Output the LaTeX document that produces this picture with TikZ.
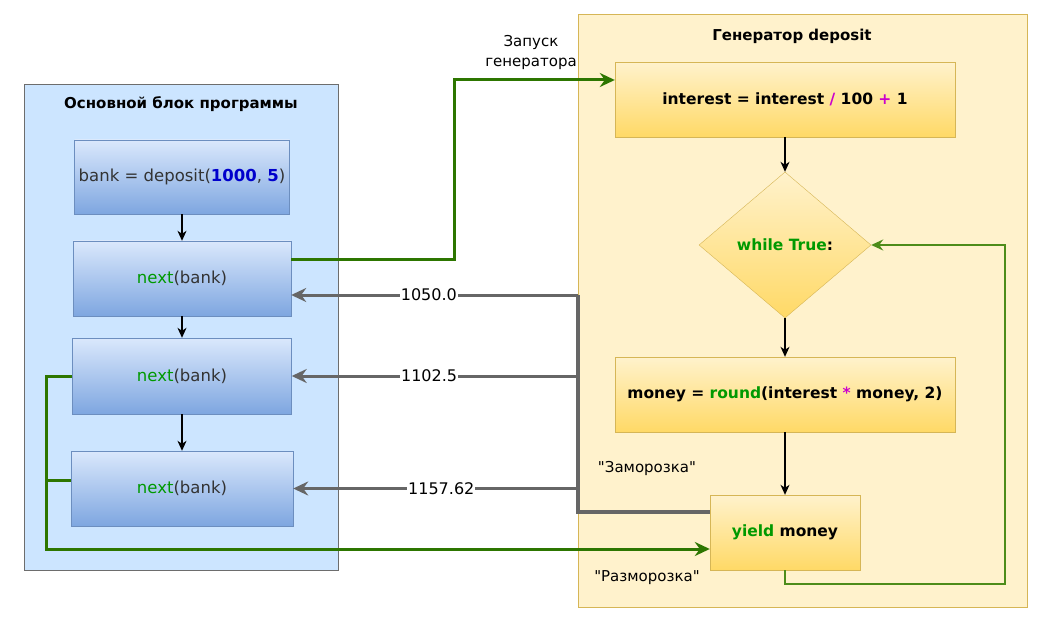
\documentclass[tikz,border=0pt]{standalone}
\usepackage{fontspec}
\setmainfont{DejaVu Sans}[Ligatures=TeXOff]
\usetikzlibrary{positioning,arrows.meta,shapes.geometric,calc}
\usepackage{xcolor}
\definecolor{panelBlue}{HTML}{CCE5FF}
\definecolor{panelGray}{HTML}{6D6D6D}
\definecolor{codeBlueTop}{HTML}{DAE8FC}
\definecolor{codeBlueBot}{HTML}{7EA6E0}
\definecolor{codeBlueLine}{HTML}{6C8EBF}
\definecolor{panelYellow}{HTML}{FFF2CC}
\definecolor{yellowLine}{HTML}{D6B656}
\definecolor{codeYellowBot}{HTML}{FFD966}
\definecolor{flowGreen}{HTML}{2D7600}
\definecolor{loopGreen}{HTML}{4D8C1A}
\definecolor{kwGreen}{HTML}{009900}
\definecolor{numBlue}{HTML}{0000CC}
\definecolor{opMagenta}{HTML}{CC00CC}
\definecolor{retGray}{HTML}{666666}
\definecolor{darkText}{HTML}{333333}

\newcommand{\kw}[1]{\textcolor{kwGreen}{#1}}
\newcommand{\op}[1]{\textcolor{opMagenta}{#1}}

\begin{document}
\begin{tikzpicture}[x=1pt, y=-1pt,
    mainPanel/.style={rectangle, draw=panelGray, fill=panelBlue, line width=1.4pt, inner sep=0pt},
    genPanel/.style={rectangle, draw=yellowLine, fill=panelYellow, line width=0.8pt, inner sep=0pt},
    panelTitle/.style={font=\fontsize{15}{17}\selectfont\bfseries, text=black},
    blueBox/.style={rectangle, draw=codeBlueLine, top color=codeBlueTop, bottom color=codeBlueBot, minimum width=218pt, minimum height=75pt, font=\fontsize{16.5}{19}\selectfont, text=darkText, inner sep=2pt},
    yellowBox/.style={rectangle, draw=yellowLine, top color=panelYellow, bottom color=codeYellowBot, minimum height=75pt, font=\fontsize{15.5}{18}\selectfont\bfseries, inner sep=2pt},
    stepArrow/.style={-{Stealth[length=10pt,width=9pt,inset=3pt]}, line width=1.1pt, draw=black},
    startArrow/.style={-{Stealth[length=15pt,width=14pt,inset=5pt]}, line width=3pt, draw=flowGreen},
    wakeLine/.style={line width=3pt, draw=flowGreen},
    loopArrow/.style={-{Stealth[length=12pt,width=11pt,inset=4pt]}, line width=1.6pt, draw=loopGreen},
    retArrow/.style={-{Stealth[length=15pt,width=14pt,inset=5pt]}, line width=3pt, draw=retGray},
    retLine/.style={line width=3.2pt, draw=retGray},
    valLabel/.style={fill=white, inner sep=1pt, font=\fontsize{16}{18}\selectfont},
    noteText/.style={font=\fontsize{15}{20}\selectfont, align=center}
]
    \useasboundingbox (0,0) rectangle (1062,636);

    \node[mainPanel, anchor=north west, minimum width=314pt, minimum height=486pt] (mainBlock) at (24,84) {};
    \node[panelTitle] (mainTitle) at (181,104) {Основной блок программы};

    \node[genPanel, anchor=north west, minimum width=449pt, minimum height=593pt] (genBlock) at (578,14) {};
    \node[panelTitle] (genTitle) at (792,36) {Генератор deposit};

    \node[blueBox, minimum width=215pt, minimum height=74pt] (bankBox) at (182,177) {bank = deposit(\textcolor{numBlue}{\textbf{1000}}, \textcolor{numBlue}{\textbf{5}})};
    \node[blueBox] (nextOne) at (182,278.5) {\kw{next}(bank)};
    \node[blueBox, minimum width=219pt, minimum height=76pt] (nextTwo) at (182,376) {\kw{next}(bank)};
    \node[blueBox, minimum width=222pt] (nextThree) at (182,488.5) {\kw{next}(bank)};

    \node[yellowBox, minimum width=340pt] (interestBox) at (785,99.5) {interest = interest \op{/} 100 \op{+} 1};
    \node[diamond, draw=yellowLine, top color=panelYellow, bottom color=codeYellowBot, minimum width=172pt, minimum height=146pt, inner sep=0pt, font=\fontsize{15.5}{18}\selectfont\bfseries] (whileNode) at (785,245) {\kw{while True}:};
    \node[yellowBox, minimum width=340pt] (moneyBox) at (785,394.5) {money = \kw{round}(interest \op{*} money, 2)};
    \node[yellowBox, minimum width=150pt] (yieldBox) at (785,532.5) {\kw{yield} money};

    \draw[stepArrow] (bankBox.south) -- (nextOne.north);
    \draw[stepArrow] (nextOne.south) -- (nextTwo.north);
    \draw[stepArrow] (nextTwo.south) -- (nextThree.north);

    \draw[stepArrow] (interestBox.south) -- (whileNode.north);
    \draw[stepArrow] (whileNode.south) -- (moneyBox.north);
    \draw[stepArrow] (moneyBox.south) -- (yieldBox.north);

    \coordinate (loopCorner) at (1005,584);
    \draw[loopArrow] (yieldBox.south) |- (loopCorner) |- (whileNode.east);

    \draw[startArrow] ([yshift=19pt]nextOne.east) -- ++(163,0) |- ([yshift=19.5pt]interestBox.west);
    \node[noteText] (startNote) at (531,52) {Запуск\\генератора};

    \coordinate (retTop) at (578,295);
    \draw[retLine] ([yshift=20.5pt]yieldBox.west) -| (retTop);
    \draw[retArrow] (retTop) -- (retTop -| nextOne.east) node[valLabel, pos=0.52] {1050.0};
    \draw[retArrow] (nextTwo.east -| retTop) -- (nextTwo.east) node[valLabel, pos=0.52] {1102.5};
    \draw[retArrow] (nextThree.east -| retTop) -- (nextThree.east) node[valLabel, pos=0.48] {1157.62};

    \coordinate (wakeCorner) at (46,549);
    \draw[wakeLine] ([yshift=8pt]nextThree.west) -| (wakeCorner);
    \draw[startArrow] (nextTwo.west) -| (wakeCorner) -- (wakeCorner -| yieldBox.west);

    \node[noteText] (freezeNote) at (647,468) {"Заморозка"};
    \node[noteText] (thawNote) at (647,578) {"Разморозка"};
\end{tikzpicture}
\end{document}
